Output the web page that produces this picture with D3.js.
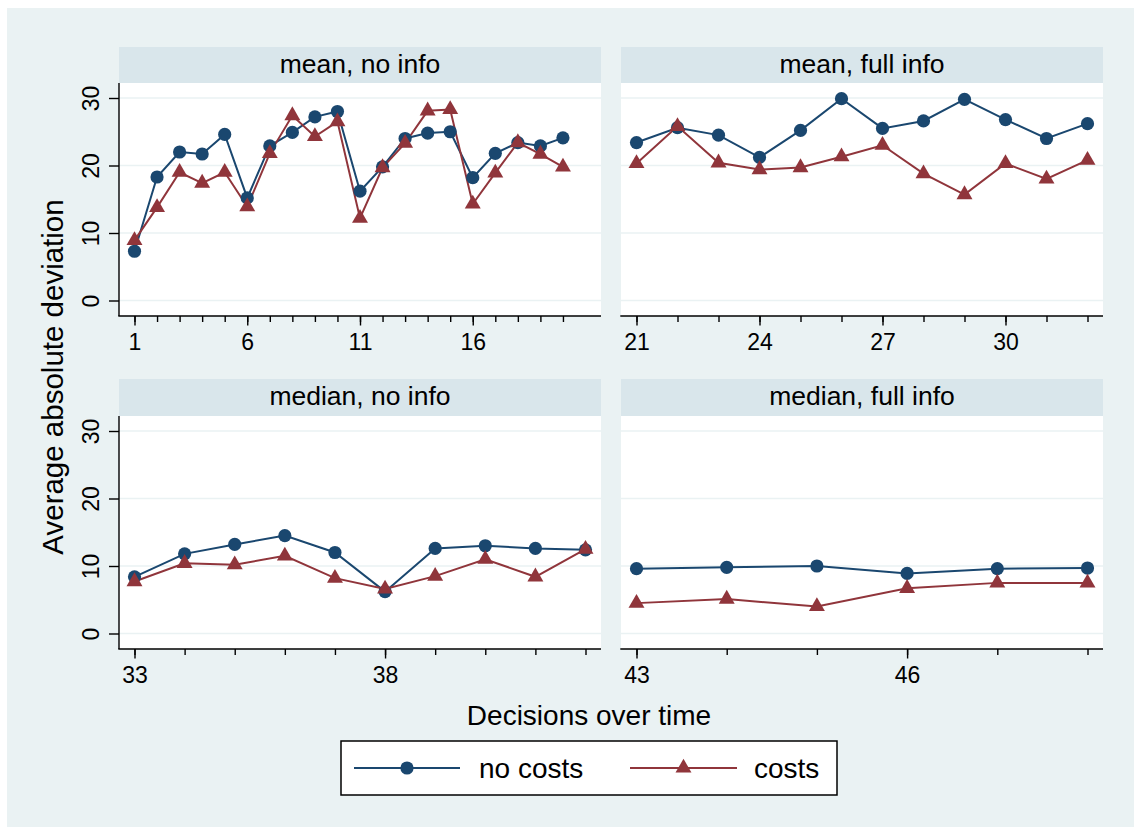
<!DOCTYPE html>
<html>
<head>
<meta charset="utf-8">
<script src="https://cdn.jsdelivr.net/npm/d3@7"></script>
<style>
  body { margin: 0; background: #fff; }
  text { font-family: "Liberation Sans", Arial, Helvetica, sans-serif; fill: #000; }
</style>
</head>
<body>
<div id="chart"></div>
<script>
// Panel titles and y ticks
const panelTitles = ['mean, no info', 'mean, full info', 'median, no info', 'median, full info'];
const yTicks = [0, 10, 20, 30];

// mean, no info
const decisionsMeanNo = [1, 2, 3, 4, 5, 6, 7, 8, 9, 10, 11, 12, 13, 14, 15, 16, 17, 18, 19, 20];
const noCostsMeanNo = [7.3, 18.3, 22.0, 21.7, 24.6, 15.2, 22.9, 24.9, 27.2, 28.0, 16.2, 19.8, 24.0, 24.8, 25.0, 18.2, 21.8, 23.4, 22.9, 24.1];
const costsMeanNo = [8.9, 13.8, 19.0, 17.4, 19.0, 13.9, 21.8, 27.4, 24.3, 26.5, 12.2, 19.7, 23.3, 28.1, 28.3, 14.3, 18.9, 23.4, 21.7, 19.8];
const ticksMeanNo = [1, 6, 11, 16];

// mean, full info
const decisionsMeanFull = [21, 22, 23, 24, 25, 26, 27, 28, 29, 30, 31, 32];
const noCostsMeanFull = [23.4, 25.6, 24.5, 21.2, 25.2, 29.9, 25.5, 26.6, 29.8, 26.8, 24.0, 26.2];
const costsMeanFull = [20.3, 25.8, 20.4, 19.4, 19.7, 21.3, 23.0, 18.8, 15.7, 20.3, 18.0, 20.8];
const ticksMeanFull = [21, 24, 27, 30];

// median, no info
const decisionsMedianNo = [33, 34, 35, 36, 37, 38, 39, 40, 41, 42];
const noCostsMedianNo = [8.4, 11.8, 13.2, 14.5, 12.0, 6.2, 12.6, 13.0, 12.6, 12.4];
const costsMedianNo = [7.7, 10.4, 10.2, 11.5, 8.2, 6.6, 8.5, 11.0, 8.4, 12.5];
const ticksMedianNo = [33, 38];

// median, full info
const decisionsMedianFull = [43, 44, 45, 46, 47, 48];
const noCostsMedianFull = [9.6, 9.8, 10.0, 8.9, 9.6, 9.7];
const costsMedianFull = [4.5, 5.1, 4.0, 6.7, 7.5, 7.5];
const ticksMedianFull = [43, 46];

const seriesNames = ['no costs', 'costs'];

// Colors (Stata s2color)
const blue = '#1a476f';
const red = '#90353b';
const stripFill = '#d9e6eb';
const bgFill = '#eaf2f3';

const panels = [
  { title: panelTitles[0], xs: decisionsMeanNo, a: noCostsMeanNo, b: costsMeanNo, ticks: ticksMeanNo, xMax: 21, col: 0, row: 0 },
  { title: panelTitles[1], xs: decisionsMeanFull, a: noCostsMeanFull, b: costsMeanFull, ticks: ticksMeanFull, xMax: 32, col: 1, row: 0 },
  { title: panelTitles[2], xs: decisionsMedianNo, a: noCostsMedianNo, b: costsMedianNo, ticks: ticksMedianNo, xMax: 42, col: 0, row: 1 },
  { title: panelTitles[3], xs: decisionsMedianFull, a: noCostsMedianFull, b: costsMedianFull, ticks: ticksMedianFull, xMax: 48, col: 1, row: 1 }
];

const svg = d3.select('#chart')
  .append('svg')
  .attr('width', 1134)
  .attr('height', 827);

// Graph region background
svg.append('rect').attr('x', 0).attr('y', 0).attr('width', 1134).attr('height', 827).attr('fill', '#fff');
svg.append('rect').attr('x', 7).attr('y', 8).attr('width', 1127).attr('height', 819).attr('fill', bgFill);

const triangle = d3.symbol().type(d3.symbolTriangle).size(110);

panels.forEach((p) => {
  const left = p.col ? 621 : 119;
  const right = p.col ? 1103 : 601;
  const stripTop = p.row ? 379 : 47;
  const plotTop = p.row ? 416 : 83;
  const plotBot = p.row ? 649 : 316;

  const x = d3.scaleLinear().domain([p.xs[0], p.xMax]).range([left + 15.5, right - 15.5]);
  const y = d3.scaleLinear().domain([0, 30]).range([plotBot - 15.5, plotTop + 15]);

  const g = svg.append('g');

  // Strip with title
  g.append('rect')
    .attr('x', left).attr('y', stripTop)
    .attr('width', right - left).attr('height', plotTop - stripTop)
    .attr('fill', stripFill);
  g.append('text')
    .attr('x', (left + right) / 2)
    .attr('y', stripTop + 25.5)
    .attr('text-anchor', 'middle')
    .style('font-size', '26.5px')
    .text(p.title);

  // Plot area
  g.append('rect')
    .attr('x', left).attr('y', plotTop)
    .attr('width', right - left).attr('height', plotBot - plotTop)
    .attr('fill', '#fff');

  // Gridlines
  g.selectAll('.grid')
    .data(yTicks)
    .enter().append('line')
    .attr('x1', left).attr('x2', right)
    .attr('y1', d => y(d)).attr('y2', d => y(d))
    .attr('stroke', bgFill)
    .attr('stroke-width', 1.6);

  // x axis: minor ticks at every decision, longer labelled ticks
  const minorAxis = d3.axisBottom(x).tickValues(p.xs).tickSize(6).tickSizeOuter(0).tickFormat('');
  const gx1 = g.append('g').attr('transform', `translate(0,${plotBot})`).call(minorAxis);
  gx1.select('.domain').remove();

  const majorAxis = d3.axisBottom(x).tickValues(p.ticks).tickSize(9.5).tickPadding(8).tickSizeOuter(0).tickFormat(d3.format('d'));
  const gx2 = g.append('g').attr('transform', `translate(0,${plotBot})`).call(majorAxis);
  gx2.select('.domain').remove();
  gx2.selectAll('text').style('font-size', '23px').attr('font-family', null);

  [gx1, gx2].forEach(a => a.selectAll('line').attr('stroke', '#000').attr('stroke-width', 1.4));

  g.append('line')
    .attr('x1', left - 0.7).attr('x2', right)
    .attr('y1', plotBot).attr('y2', plotBot)
    .attr('stroke', '#000').attr('stroke-width', 1.4);

  // y axis on the left column only
  if (p.col === 0) {
    const yAxis = d3.axisLeft(y).tickValues(yTicks).tickSize(10).tickSizeOuter(0);
    const gy = g.append('g').attr('transform', `translate(${left},0)`).call(yAxis);
    gy.select('.domain').remove();
    gy.selectAll('line').attr('stroke', '#000').attr('stroke-width', 1.4);
    gy.selectAll('text')
      .attr('transform', 'rotate(-90)')
      .attr('x', 0)
      .attr('y', -20)
      .attr('dy', 0)
      .attr('text-anchor', 'middle')
      .attr('font-family', null)
      .style('font-size', '23px');

    g.append('line')
      .attr('x1', left).attr('x2', left)
      .attr('y1', plotTop).attr('y2', plotBot)
      .attr('stroke', '#000').attr('stroke-width', 1.4);
  }

  // Series
  const line = d3.line()
    .x((d, i) => x(p.xs[i]))
    .y(d => y(d));

  g.append('path')
    .datum(p.a)
    .attr('d', line)
    .attr('fill', 'none')
    .attr('stroke', blue)
    .attr('stroke-width', 2);

  g.append('path')
    .datum(p.b)
    .attr('d', line)
    .attr('fill', 'none')
    .attr('stroke', red)
    .attr('stroke-width', 2);

  g.selectAll('.dot')
    .data(p.a)
    .enter().append('circle')
    .attr('cx', (d, i) => x(p.xs[i]))
    .attr('cy', d => y(d))
    .attr('r', 6.6)
    .attr('fill', blue);

  g.selectAll('.tri')
    .data(p.b)
    .enter().append('path')
    .attr('d', triangle)
    .attr('transform', (d, i) => `translate(${x(p.xs[i])},${y(d)})`)
    .attr('fill', red);
});

// Axis titles
svg.append('text')
  .attr('transform', 'translate(63,377) rotate(-90)')
  .attr('text-anchor', 'middle')
  .style('font-size', '29.5px')
  .text('Average absolute deviation');

svg.append('text')
  .attr('x', 589)
  .attr('y', 725)
  .attr('text-anchor', 'middle')
  .style('font-size', '28px')
  .text('Decisions over time');

// Legend
const legend = svg.append('g');
legend.append('rect')
  .attr('x', 341).attr('y', 741)
  .attr('width', 496).attr('height', 54)
  .attr('fill', '#fff')
  .attr('stroke', '#000')
  .attr('stroke-width', 1.5);

const legendItems = [
  { name: seriesNames[0], color: blue, x1: 354, x2: 460, tx: 479, circle: true },
  { name: seriesNames[1], color: red, x1: 630, x2: 737, tx: 754, circle: false }
];

legendItems.forEach((it) => {
  legend.append('line')
    .attr('x1', it.x1).attr('x2', it.x2)
    .attr('y1', 768).attr('y2', 768)
    .attr('stroke', it.color).attr('stroke-width', 2.2);
  const mx = (it.x1 + it.x2) / 2;
  if (it.circle) {
    legend.append('circle').attr('cx', mx).attr('cy', 768).attr('r', 6.6).attr('fill', it.color);
  } else {
    legend.append('path').attr('d', triangle).attr('transform', `translate(${mx},768)`).attr('fill', it.color);
  }
  legend.append('text')
    .attr('x', it.tx)
    .attr('y', 778)
    .style('font-size', '28px')
    .text(it.name);
});
</script>
</body>
</html>
